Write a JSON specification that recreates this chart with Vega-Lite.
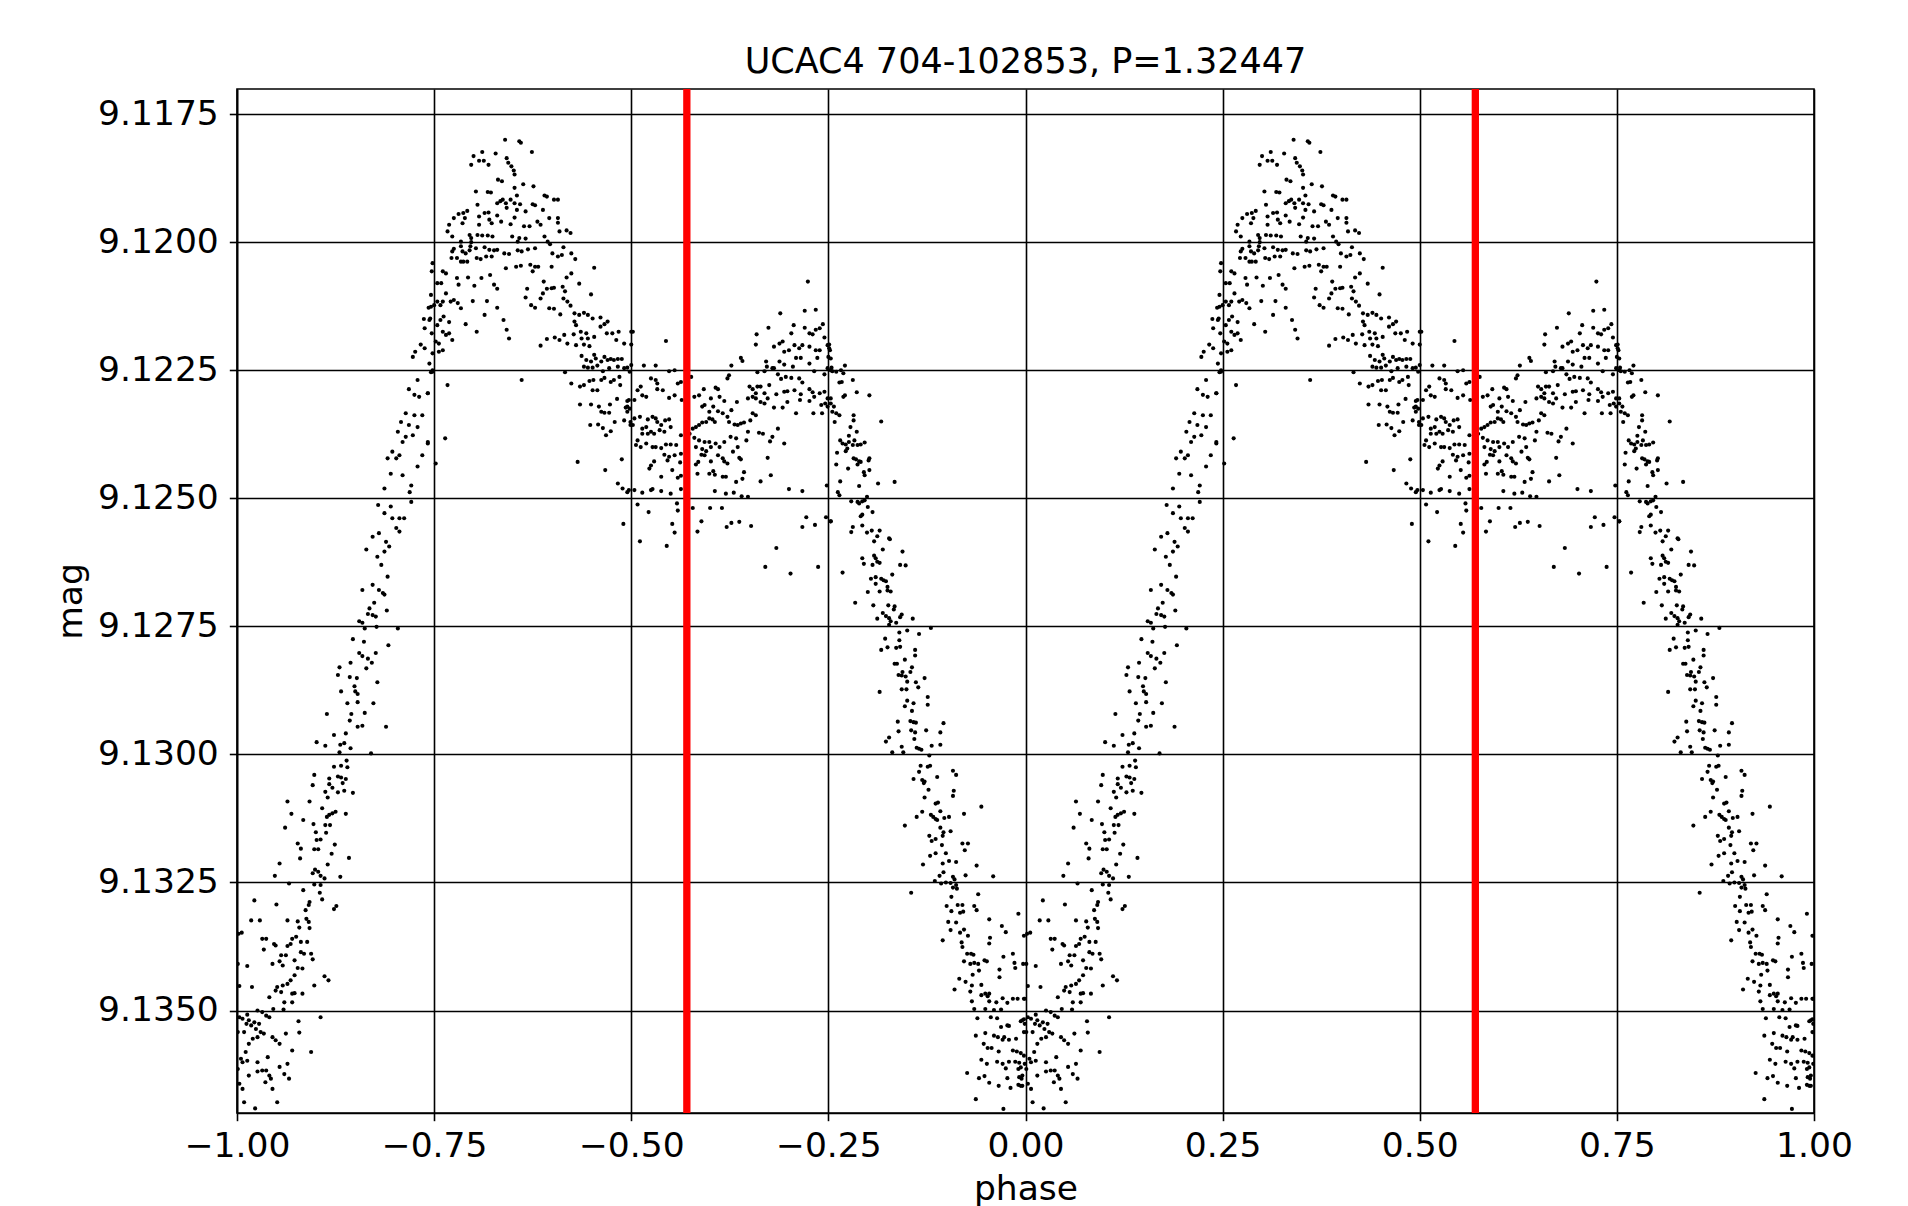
{
"$schema":"https://vega.github.io/schema/vega-lite/v6.json",
"width":1577,"height":1024,
"autosize":{"type":"none"},
"padding":{"left":237,"top":89,"right":94,"bottom":93},
"background":"white",
"title":{"text":"UCAC4 704-102853, P=1.32447","font":"DejaVu Sans","fontSize":35,"fontWeight":"normal","color":"black","anchor":"middle","offset":5},
"config":{"view":{"stroke":"black","strokeWidth":1.6},
"axis":{"labelFont":"DejaVu Sans","labelFontSize":34.5,"labelColor":"black","titleFont":"DejaVu Sans","titleFontSize":34.5,"titleFontWeight":"normal","titleColor":"black","tickColor":"black","tickWidth":1.6,"tickSize":7.7,"domainColor":"black","domainWidth":1.6,"grid":true,"gridColor":"black","gridWidth":1.6,"gridOpacity":1}},
"datasets":{"pts":[
{"p":0.247,"q":-0.753,"m":9.12057},{"p":0.246,"q":-0.754,"m":9.12103},{"p":0.243,"q":-0.757,"m":9.12128},{"p":0.237,"q":-0.763,"m":9.1215},{"p":0.244,"q":-0.756,"m":9.12152},{"p":0.238,"q":-0.762,"m":9.12168},{"p":0.247,"q":-0.753,"m":9.12178},{"p":0.233,"q":-0.767,"m":9.122},{"p":0.226,"q":-0.774,"m":9.12214},{"p":0.238,"q":-0.762,"m":9.12207},{"p":0.223,"q":-0.777,"m":9.12224},{"p":0.244,"q":-0.756,"m":9.12237},{"p":0.248,"q":-0.752,"m":9.12253},{"p":0.229,"q":-0.771,"m":9.12269},{"p":0.218,"q":-0.782,"m":9.12287},{"p":0.225,"q":-0.775,"m":9.12298},{"p":0.231,"q":-0.769,"m":9.12302},{"p":0.242,"q":-0.758,"m":9.12295},{"p":0.214,"q":-0.786,"m":9.12334},{"p":0.225,"q":-0.775,"m":9.12338},{"p":0.208,"q":-0.792,"m":9.12351},{"p":0.218,"q":-0.782,"m":9.12357},{"p":0.229,"q":-0.771,"m":9.12361},{"p":0.235,"q":-0.765,"m":9.12338},{"p":0.204,"q":-0.796,"m":9.1237},{"p":0.214,"q":-0.786,"m":9.1238},{"p":0.223,"q":-0.777,"m":9.12377},{"p":0.21,"q":-0.79,"m":9.1239},{"p":0.197,"q":-0.803,"m":9.12409},{"p":0.206,"q":-0.794,"m":9.12416},{"p":0.191,"q":-0.809,"m":9.12422},{"p":0.202,"q":-0.798,"m":9.12422},{"p":0.229,"q":-0.771,"m":9.12438},{"p":0.235,"q":-0.765,"m":9.12416},{"p":0.242,"q":-0.758,"m":9.1239},{"p":0.195,"q":-0.805,"m":9.12452},{"p":0.21,"q":-0.79,"m":9.12455},{"p":0.187,"q":-0.813,"m":9.12481},{"p":0.221,"q":-0.779,"m":9.12475},{"p":0.219,"q":-0.781,"m":9.12488},{"p":0.221,"q":-0.779,"m":9.12507},{"p":0.179,"q":-0.821,"m":9.12513},{"p":0.195,"q":-0.805,"m":9.12516},{"p":0.187,"q":-0.813,"m":9.12529},{"p":0.197,"q":-0.803,"m":9.12539},{"p":0.206,"q":-0.794,"m":9.12539},{"p":0.212,"q":-0.788,"m":9.12539},{"p":0.202,"q":-0.798,"m":9.12558},{"p":0.206,"q":-0.794,"m":9.12565},{"p":0.172,"q":-0.828,"m":9.12575},{"p":0.18,"q":-0.82,"m":9.12568},{"p":0.189,"q":-0.811,"m":9.12585},{"p":0.193,"q":-0.807,"m":9.12594},{"p":0.164,"q":-0.836,"m":9.126},{"p":0.178,"q":-0.822,"m":9.12614},{"p":0.187,"q":-0.813,"m":9.12604},{"p":0.183,"q":-0.817,"m":9.1263},{"p":0.191,"q":-0.809,"m":9.12653},{"p":0.172,"q":-0.828,"m":9.12669},{"p":0.159,"q":-0.841,"m":9.12679},{"p":0.185,"q":-0.815,"m":9.12685},{"p":0.18,"q":-0.82,"m":9.12679},
{"p":0.187,"q":-0.813,"m":9.12688},{"p":0.174,"q":-0.826,"m":9.12704},{"p":0.168,"q":-0.832,"m":9.12715},{"p":0.166,"q":-0.834,"m":9.12726},{"p":0.172,"q":-0.828,"m":9.12728},{"p":0.176,"q":-0.824,"m":9.12731},{"p":0.19,"q":-0.81,"m":9.12719},{"p":0.155,"q":-0.845,"m":9.1274},{"p":0.159,"q":-0.841,"m":9.12743},{"p":0.162,"q":-0.838,"m":9.12754},{"p":0.177,"q":-0.823,"m":9.12751},{"p":0.204,"q":-0.796,"m":9.12754},{"p":0.147,"q":-0.853,"m":9.12775},{"p":0.161,"q":-0.839,"m":9.1278},{"p":0.192,"q":-0.808,"m":9.12787},{"p":0.155,"q":-0.845,"m":9.12802},{"p":0.159,"q":-0.841,"m":9.12808},{"p":0.166,"q":-0.834,"m":9.12813},{"p":0.176,"q":-0.824,"m":9.12802},{"p":0.171,"q":-0.829,"m":9.12821},{"p":0.164,"q":-0.836,"m":9.12832},{"p":0.144,"q":-0.856,"m":9.12821},{"p":0.13,"q":-0.87,"m":9.1283},{"p":0.128,"q":-0.872,"m":9.12845},{"p":0.178,"q":-0.822,"m":9.12859},{"p":0.143,"q":-0.857,"m":9.12849},{"p":0.152,"q":-0.848,"m":9.12851},{"p":0.132,"q":-0.868,"m":9.12877},{"p":0.149,"q":-0.851,"m":9.12867},{"p":0.15,"q":-0.85,"m":9.12877},{"p":0.153,"q":-0.847,"m":9.12882},{"p":0.14,"q":-0.86,"m":9.129},{"p":0.153,"q":-0.847,"m":9.12898},{"p":0.173,"q":-0.827,"m":9.129},{"p":0.162,"q":-0.838,"m":9.12919},{"p":0.145,"q":-0.855,"m":9.12921},{"p":0.114,"q":-0.886,"m":9.12921},{"p":0.143,"q":-0.857,"m":9.12934},{"p":0.153,"q":-0.847,"m":9.12946},{"p":0.159,"q":-0.841,"m":9.12944},{"p":0.189,"q":-0.811,"m":9.12946},
{"p":0.123,"q":-0.877,"m":9.12962},{"p":0.138,"q":-0.862,"m":9.12959},{"p":0.101,"q":-0.899,"m":9.12976},{"p":0.112,"q":-0.888,"m":9.12983},{"p":0.131,"q":-0.869,"m":9.12981},{"p":0.136,"q":-0.864,"m":9.12978},{"p":0.144,"q":-0.856,"m":9.12988},{"p":0.13,"q":-0.87,"m":9.12996},{"p":0.17,"q":-0.83,"m":9.12998},{"p":0.139,"q":-0.861,"m":9.13012},{"p":0.123,"q":-0.877,"m":9.13024},{"p":0.132,"q":-0.868,"m":9.13022},{"p":0.14,"q":-0.86,"m":9.13025},{"p":0.098,"q":-0.902,"m":9.1304},{"p":0.128,"q":-0.872,"m":9.13043},{"p":0.132,"q":-0.868,"m":9.13045},{"p":0.138,"q":-0.862,"m":9.13048},{"p":0.117,"q":-0.883,"m":9.13047},{"p":0.096,"q":-0.904,"m":9.1306},{"p":0.134,"q":-0.866,"m":9.13056},{"p":0.117,"q":-0.883,"m":9.13058},{"p":0.121,"q":-0.879,"m":9.13065},{"p":0.112,"q":-0.888,"m":9.13073},{"p":0.128,"q":-0.872,"m":9.13074},{"p":0.147,"q":-0.853,"m":9.13075},{"p":0.136,"q":-0.864,"m":9.13071},{"p":0.115,"q":-0.885,"m":9.13084},{"p":0.092,"q":-0.908,"m":9.13092},{"p":0.064,"q":-0.936,"m":9.13092},{"p":0.108,"q":-0.892,"m":9.13105},{"p":0.125,"q":-0.875,"m":9.13112},{"p":0.121,"q":-0.879,"m":9.13115},{"p":0.117,"q":-0.883,"m":9.13118},{"p":0.114,"q":-0.886,"m":9.13122},{"p":0.138,"q":-0.862,"m":9.13116},{"p":0.069,"q":-0.931,"m":9.13116},{"p":0.084,"q":-0.916,"m":9.13128},{"p":0.097,"q":-0.903,"m":9.13136},{"p":0.112,"q":-0.888,"m":9.13138},{"p":0.118,"q":-0.882,"m":9.13138},{"p":0.061,"q":-0.939,"m":9.13143},{"p":0.1,"q":-0.9,"m":9.13152},{"p":0.113,"q":-0.887,"m":9.13153},{"p":0.101,"q":-0.899,"m":9.13167},{"p":0.106,"q":-0.894,"m":9.13166},{"p":0.077,"q":-0.923,"m":9.13174},{"p":0.124,"q":-0.876,"m":9.13176},{"p":0.081,"q":-0.919,"m":9.13184},{"p":0.098,"q":-0.902,"m":9.13185},{"p":0.103,"q":-0.897,"m":9.13185},{"p":0.12,"q":-0.88,"m":9.13194},{"p":0.142,"q":-0.858,"m":9.13202},{"p":0.08,"q":-0.92,"m":9.13203},{"p":0.054,"q":-0.946,"m":9.13213},{"p":0.115,"q":-0.885,"m":9.13215},{"p":0.099,"q":-0.901,"m":9.13225},{"p":0.096,"q":-0.904,"m":9.13232},{"p":0.103,"q":-0.897,"m":9.13229},{"p":0.106,"q":-0.894,"m":9.13237},{"p":0.111,"q":-0.889,"m":9.13242},{"p":0.131,"q":-0.869,"m":9.13239},{"p":0.048,"q":-0.952,"m":9.13237},{"p":0.066,"q":-0.934,"m":9.13252},{"p":0.098,"q":-0.902,"m":9.13254},{"p":0.106,"q":-0.894,"m":9.13255},{"p":0.105,"q":-0.895,"m":9.1327},{"p":0.084,"q":-0.916,"m":9.13265},{"p":0.108,"q":-0.892,"m":9.13283},{"p":0.092,"q":-0.908,"m":9.13288},{"p":0.091,"q":-0.909,"m":9.13294},{"p":0.087,"q":-0.913,"m":9.13304},{"p":0.123,"q":-0.877,"m":9.13302},{"p":0.126,"q":-0.874,"m":9.13296},{"p":0.077,"q":-0.923,"m":9.13326},{"p":0.088,"q":-0.912,"m":9.13321},{"p":0.091,"q":-0.909,"m":9.13327},{"p":0.079,"q":-0.921,"m":9.13338},{"p":0.092,"q":-0.908,"m":9.13339},{"p":0.064,"q":-0.936,"m":9.13324},
{"p":0.002,"q":-0.998,"m":9.1335},{"p":0.006,"q":-0.994,"m":9.13348},{"p":0.001,"q":-0.999,"m":9.13409},{"p":0.013,"q":-0.987,"m":9.13413},{"p":0.018,"q":-0.982,"m":9.13324},{"p":0.029,"q":-0.971,"m":9.13324},{"p":0.022,"q":-0.978,"m":9.13285},{"p":0.05,"q":-0.95,"m":9.13293},{"p":0.032,"q":-0.968,"m":9.1336},{"p":0.037,"q":-0.963,"m":9.1336},{"p":0.034,"q":-0.966,"m":9.13381},{"p":0.047,"q":-0.953,"m":9.1337},{"p":0.049,"q":-0.951,"m":9.13373},{"p":0.064,"q":-0.936,"m":9.13374},{"p":0.068,"q":-0.932,"m":9.1337},{"p":0.075,"q":-0.925,"m":9.13356},{"p":0.081,"q":-0.919,"m":9.13366},{"p":0.089,"q":-0.911,"m":9.13366},{"p":0.07,"q":-0.93,"m":9.1336},{"p":0.062,"q":-0.938,"m":9.13392},{"p":0.056,"q":-0.944,"m":9.13392},{"p":0.058,"q":-0.942,"m":9.13412},{"p":0.045,"q":-0.955,"m":9.13409},{"p":0.054,"q":-0.946,"m":9.13404},{"p":0.073,"q":-0.927,"m":9.13402},{"p":0.081,"q":-0.919,"m":9.13386},{"p":0.085,"q":-0.915,"m":9.13389},{"p":0.094,"q":-0.906,"m":9.13389},{"p":0.096,"q":-0.904,"m":9.134},{"p":0.111,"q":-0.889,"m":9.13433},{"p":0.116,"q":-0.884,"m":9.13441},{"p":0.098,"q":-0.902,"m":9.13451},{"p":0.083,"q":-0.917,"m":9.13418},{"p":0.077,"q":-0.923,"m":9.13417},{"p":0.073,"q":-0.927,"m":9.13431},{"p":0.068,"q":-0.932,"m":9.13441},{"p":0.064,"q":-0.936,"m":9.13448},{"p":0.058,"q":-0.942,"m":9.13451},{"p":0.051,"q":-0.949,"m":9.13454},{"p":0.056,"q":-0.944,"m":9.13464},{"p":0.049,"q":-0.951,"m":9.13461},{"p":0.073,"q":-0.927,"m":9.13466},{"p":0.07,"q":-0.93,"m":9.13467},{"p":0.083,"q":-0.917,"m":9.13467},{"p":0.06,"q":-0.94,"m":9.13484},{"p":0.07,"q":-0.93,"m":9.13484},{"p":0.041,"q":-0.959,"m":9.13474},{"p":0.046,"q":-0.954,"m":9.13497},{"p":0.059,"q":-0.941,"m":9.13498},{"p":0.019,"q":-0.981,"m":9.13454},{"p":0.003,"q":-0.997,"m":9.13452},{"p":0.999,"q":-0.001,"m":9.13477},{"p":0.026,"q":-0.974,"m":9.135},{"p":0.032,"q":-0.968,"m":9.13503},{"p":0.037,"q":-0.963,"m":9.1351},{"p":0.041,"q":-0.959,"m":9.13513},{"p":0.013,"q":-0.987,"m":9.13508},{"p":0.015,"q":-0.985,"m":9.13519},{"p":0.022,"q":-0.978,"m":9.13523},{"p":0.028,"q":-0.972,"m":9.13526},{"p":0.024,"q":-0.976,"m":9.13536},{"p":0.03,"q":-0.97,"m":9.13542},{"p":0.034,"q":-0.966,"m":9.13545},{"p":0.026,"q":-0.974,"m":9.13552},{"p":0.02,"q":-0.98,"m":9.13555},{"p":0.015,"q":-0.985,"m":9.13565},{"p":0.045,"q":-0.955,"m":9.13552},{"p":0.049,"q":-0.951,"m":9.13558},{"p":0.054,"q":-0.946,"m":9.13565},{"p":0.062,"q":-0.938,"m":9.13545},{"p":0.079,"q":-0.921,"m":9.13543},{"p":0.078,"q":-0.922,"m":9.13521},{"p":0.106,"q":-0.894,"m":9.13513},{"p":0.009,"q":-0.991,"m":9.13542},{"p":0.001,"q":-0.999,"m":9.13542},{"p":0.996,"q":-0.004,"m":9.13519},{"p":0.999,"q":-0.001,"m":9.13526},{"p":0.003,"q":-0.997,"m":9.13513},{"p":0.007,"q":-0.993,"m":9.13516},{"p":0.012,"q":-0.988,"m":9.13526},{"p":0.018,"q":-0.982,"m":9.13529},{"p":0.011,"q":-0.989,"m":9.13581},{"p":0.005,"q":-0.995,"m":9.13594},{"p":0.999,"q":-0.001,"m":9.13604},{"p":0.007,"q":-0.993,"m":9.13601},{"p":0.001,"q":-0.999,"m":9.13614},{"p":0.013,"q":-0.987,"m":9.13598},{"p":0.026,"q":-0.974,"m":9.13601},{"p":0.032,"q":-0.968,"m":9.13617},{"p":0.026,"q":-0.974,"m":9.13619},{"p":0.037,"q":-0.963,"m":9.13617},{"p":0.015,"q":-0.985,"m":9.13627},{"p":0.003,"q":-0.997,"m":9.13643},{"p":0.996,"q":-0.004,"m":9.13627},{"p":0.996,"q":-0.004,"m":9.13647},{"p":0.007,"q":-0.993,"m":9.13653},{"p":0.041,"q":-0.959,"m":9.13627},{"p":0.043,"q":-0.957,"m":9.13633},{"p":0.054,"q":-0.946,"m":9.1361},{"p":0.064,"q":-0.936,"m":9.13604},{"p":0.06,"q":-0.94,"m":9.13624},{"p":0.066,"q":-0.934,"m":9.13633},{"p":0.07,"q":-0.93,"m":9.13578},{"p":0.094,"q":-0.906,"m":9.13581},{"p":0.039,"q":-0.961,"m":9.13591},{"p":0.036,"q":-0.964,"m":9.1364},{"p":0.045,"q":-0.955,"m":9.13653},{"p":0.009,"q":-0.991,"m":9.13679},{"p":0.023,"q":-0.977,"m":9.13691},{"p":0.051,"q":-0.949,"m":9.13679},
{"p":0.34,"q":-0.66,"m":9.118},{"p":0.358,"q":-0.642,"m":9.11803},{"p":0.36,"q":-0.64,"m":9.11806},{"p":0.374,"q":-0.626,"m":9.11824},{"p":0.328,"q":-0.672,"m":9.11827},{"p":0.311,"q":-0.689,"m":9.11824},{"p":0.3,"q":-0.7,"m":9.11832},{"p":0.307,"q":-0.693,"m":9.11841},{"p":0.313,"q":-0.687,"m":9.11841},{"p":0.319,"q":-0.681,"m":9.11849},{"p":0.297,"q":-0.703,"m":9.11849},{"p":0.342,"q":-0.658,"m":9.11836},{"p":0.344,"q":-0.656,"m":9.11845},{"p":0.348,"q":-0.652,"m":9.11852},{"p":0.351,"q":-0.649,"m":9.1186},{"p":0.352,"q":-0.648,"m":9.11868},{"p":0.331,"q":-0.669,"m":9.11878},{"p":0.336,"q":-0.664,"m":9.11881},{"p":0.363,"q":-0.637,"m":9.11887},{"p":0.376,"q":-0.624,"m":9.11891},{"p":0.352,"q":-0.648,"m":9.11894},{"p":0.303,"q":-0.697,"m":9.11901},{"p":0.318,"q":-0.682,"m":9.11902},{"p":0.322,"q":-0.678,"m":9.11903},{"p":0.355,"q":-0.645,"m":9.11909},{"p":0.305,"q":-0.695,"m":9.11927},{"p":0.33,"q":-0.67,"m":9.11924},{"p":0.334,"q":-0.666,"m":9.1192},{"p":0.337,"q":-0.663,"m":9.11917},{"p":0.341,"q":-0.659,"m":9.11924},{"p":0.347,"q":-0.653,"m":9.11917},{"p":0.352,"q":-0.648,"m":9.11924},{"p":0.359,"q":-0.641,"m":9.11926},{"p":0.375,"q":-0.625,"m":9.11926},{"p":0.378,"q":-0.622,"m":9.11928},{"p":0.39,"q":-0.61,"m":9.11909},{"p":0.393,"q":-0.607,"m":9.11911},{"p":0.402,"q":-0.598,"m":9.11917},{"p":0.407,"q":-0.593,"m":9.11917},{"p":0.388,"q":-0.612,"m":9.11937},{"p":0.366,"q":-0.634,"m":9.1194},{"p":0.355,"q":-0.645,"m":9.11937},{"p":0.342,"q":-0.658,"m":9.11933},{"p":0.319,"q":-0.681,"m":9.11942},{"p":0.314,"q":-0.686,"m":9.11943},{"p":0.307,"q":-0.693,"m":9.1195},{"p":0.292,"q":-0.708,"m":9.11939},{"p":0.287,"q":-0.713,"m":9.11943},{"p":0.281,"q":-0.719,"m":9.11945},{"p":0.275,"q":-0.725,"m":9.11953},{"p":0.289,"q":-0.711,"m":9.11953},{"p":0.286,"q":-0.714,"m":9.11963},{"p":0.32,"q":-0.68,"m":9.11956},{"p":0.33,"q":-0.67,"m":9.11948},{"p":0.335,"q":-0.665,"m":9.1196},{"p":0.323,"q":-0.677,"m":9.11963},{"p":0.307,"q":-0.693,"m":9.11966},{"p":0.347,"q":-0.653,"m":9.11965},{"p":0.352,"q":-0.648,"m":9.11952},{"p":0.364,"q":-0.636,"m":9.11969},{"p":0.371,"q":-0.629,"m":9.11969},{"p":0.381,"q":-0.619,"m":9.1196},{"p":0.385,"q":-0.615,"m":9.11966},{"p":0.396,"q":-0.604,"m":9.11953},{"p":0.407,"q":-0.593,"m":9.11953},{"p":0.407,"q":-0.593,"m":9.11962},{"p":0.409,"q":-0.591,"m":9.11979},{"p":0.418,"q":-0.582,"m":9.11977},{"p":0.423,"q":-0.577,"m":9.11982},{"p":0.269,"q":-0.731,"m":9.11966},{"p":0.267,"q":-0.733,"m":9.11979},{"p":0.273,"q":-0.727,"m":9.11989},{"p":0.295,"q":-0.705,"m":9.11986},{"p":0.297,"q":-0.703,"m":9.11992},{"p":0.305,"q":-0.695,"m":9.11986},{"p":0.311,"q":-0.689,"m":9.11987},{"p":0.318,"q":-0.682,"m":9.11987},{"p":0.324,"q":-0.676,"m":9.11989},{"p":0.349,"q":-0.651,"m":9.11989},{"p":0.358,"q":-0.642,"m":9.11992},{"p":0.366,"q":-0.634,"m":9.11993},{"p":0.356,"q":-0.644,"m":9.11999},{"p":0.39,"q":-0.61,"m":9.11989},{"p":0.394,"q":-0.606,"m":9.11999},{"p":0.284,"q":-0.716,"m":9.11999},{"p":0.297,"q":-0.703,"m":9.12},{"p":0.296,"q":-0.704,"m":9.12008},{"p":0.284,"q":-0.716,"m":9.12008},{"p":0.275,"q":-0.725,"m":9.12013},{"p":0.273,"q":-0.727,"m":9.12018},{"p":0.286,"q":-0.714,"m":9.12018},{"p":0.29,"q":-0.71,"m":9.12022},{"p":0.295,"q":-0.705,"m":9.12016},{"p":0.303,"q":-0.697,"m":9.12012},{"p":0.314,"q":-0.686,"m":9.1201},{"p":0.32,"q":-0.68,"m":9.12015},{"p":0.326,"q":-0.674,"m":9.12016},{"p":0.33,"q":-0.67,"m":9.12015},{"p":0.339,"q":-0.661,"m":9.12022},{"p":0.345,"q":-0.655,"m":9.12023},{"p":0.356,"q":-0.644,"m":9.12016},{"p":0.361,"q":-0.639,"m":9.12018},{"p":0.369,"q":-0.631,"m":9.12014},{"p":0.378,"q":-0.622,"m":9.12012},{"p":0.397,"q":-0.603,"m":9.12004},{"p":0.4,"q":-0.6,"m":9.12022},{"p":0.407,"q":-0.593,"m":9.12028},{"p":0.414,"q":-0.586,"m":9.1201},{"p":0.412,"q":-0.588,"m":9.12025},{"p":0.424,"q":-0.576,"m":9.12022},{"p":0.429,"q":-0.571,"m":9.12033},{"p":0.272,"q":-0.728,"m":9.12031},{"p":0.279,"q":-0.721,"m":9.12031},{"p":0.284,"q":-0.716,"m":9.12038},{"p":0.287,"q":-0.713,"m":9.12038},{"p":0.292,"q":-0.708,"m":9.12038},{"p":0.304,"q":-0.696,"m":9.12031},{"p":0.309,"q":-0.691,"m":9.12033},{"p":0.316,"q":-0.684,"m":9.12028},{"p":0.323,"q":-0.677,"m":9.12028},{"p":0.341,"q":-0.659,"m":9.12051},{"p":0.354,"q":-0.646,"m":9.12048},{"p":0.36,"q":-0.64,"m":9.12046},{"p":0.372,"q":-0.628,"m":9.12044},{"p":0.378,"q":-0.622,"m":9.12048},{"p":0.382,"q":-0.618,"m":9.12048},{"p":0.399,"q":-0.601,"m":9.12048},{"p":0.453,"q":-0.547,"m":9.1205},{"p":0.248,"q":-0.752,"m":9.12041},{"p":0.261,"q":-0.739,"m":9.12057},{"p":0.265,"q":-0.735,"m":9.12061},{"p":0.254,"q":-0.746,"m":9.1208},{"p":0.259,"q":-0.741,"m":9.1208},{"p":0.279,"q":-0.721,"m":9.1207},{"p":0.281,"q":-0.719,"m":9.12083},{"p":0.293,"q":-0.707,"m":9.12069},{"p":0.301,"q":-0.699,"m":9.12085},{"p":0.31,"q":-0.69,"m":9.1207},{"p":0.321,"q":-0.679,"m":9.12064},{"p":0.326,"q":-0.674,"m":9.12083},{"p":0.33,"q":-0.67,"m":9.12091},{"p":0.368,"q":-0.632,"m":9.12091},{"p":0.375,"q":-0.625,"m":9.12057},{"p":0.389,"q":-0.611,"m":9.12077},{"p":0.393,"q":-0.607,"m":9.12091},{"p":0.399,"q":-0.601,"m":9.1209},{"p":0.402,"q":-0.598,"m":9.12089},{"p":0.413,"q":-0.587,"m":9.12087},{"p":0.416,"q":-0.584,"m":9.12096},{"p":0.418,"q":-0.582,"m":9.12069},{"p":0.424,"q":-0.576,"m":9.12061},{"p":0.434,"q":-0.566,"m":9.12081},{"p":0.449,"q":-0.551,"m":9.12102},{"p":0.265,"q":-0.735,"m":9.121},{"p":0.271,"q":-0.729,"m":9.12116},{"p":0.275,"q":-0.725,"m":9.12113},{"p":0.28,"q":-0.72,"m":9.12119},{"p":0.284,"q":-0.716,"m":9.12129},{"p":0.261,"q":-0.739,"m":9.12116},{"p":0.258,"q":-0.742,"m":9.12123},{"p":0.254,"q":-0.746,"m":9.12116},{"p":0.25,"q":-0.75,"m":9.12123},{"p":0.246,"q":-0.754,"m":9.12126},{"p":0.245,"q":-0.755,"m":9.12149},{"p":0.258,"q":-0.742,"m":9.12152},{"p":0.262,"q":-0.738,"m":9.12145},{"p":0.269,"q":-0.731,"m":9.12156},{"p":0.254,"q":-0.746,"m":9.12162},{"p":0.261,"q":-0.739,"m":9.12175},{"p":0.265,"q":-0.735,"m":9.12181},{"p":0.269,"q":-0.731,"m":9.12178},{"p":0.273,"q":-0.727,"m":9.12191},{"p":0.252,"q":-0.748,"m":9.12194},{"p":0.256,"q":-0.744,"m":9.12198},{"p":0.261,"q":-0.739,"m":9.12211},{"p":0.256,"q":-0.744,"m":9.12214},{"p":0.248,"q":-0.752,"m":9.12217},{"p":0.29,"q":-0.71,"m":9.1216},{"p":0.304,"q":-0.696,"m":9.12175},{"p":0.299,"q":-0.701,"m":9.12115},{"p":0.317,"q":-0.683,"m":9.12115},{"p":0.314,"q":-0.686,"m":9.12142},{"p":0.33,"q":-0.67,"m":9.12128},{"p":0.338,"q":-0.662,"m":9.12152},{"p":0.342,"q":-0.658,"m":9.12171},{"p":0.345,"q":-0.655,"m":9.12188},{"p":0.366,"q":-0.634,"m":9.12108},{"p":0.373,"q":-0.627,"m":9.12123},{"p":0.378,"q":-0.622,"m":9.12128},{"p":0.385,"q":-0.615,"m":9.1211},{"p":0.388,"q":-0.612,"m":9.121},{"p":0.396,"q":-0.604,"m":9.12129},{"p":0.402,"q":-0.598,"m":9.1213},{"p":0.41,"q":-0.59,"m":9.12141},{"p":0.414,"q":-0.586,"m":9.1211},{"p":0.419,"q":-0.581,"m":9.12116},{"p":0.423,"q":-0.577,"m":9.12124},{"p":0.428,"q":-0.572,"m":9.12139},{"p":0.434,"q":-0.566,"m":9.12142},{"p":0.44,"q":-0.56,"m":9.12138},{"p":0.445,"q":-0.555,"m":9.12142},{"p":0.451,"q":-0.549,"m":9.12149},{"p":0.461,"q":-0.539,"m":9.12147},{"p":0.466,"q":-0.534,"m":9.1216},{"p":0.47,"q":-0.53,"m":9.12155},{"p":0.428,"q":-0.572,"m":9.12155},{"p":0.43,"q":-0.57,"m":9.12162},{"p":0.436,"q":-0.564,"m":9.12175},{"p":0.443,"q":-0.557,"m":9.12178},{"p":0.445,"q":-0.555,"m":9.12188},{"p":0.453,"q":-0.547,"m":9.12185},{"p":0.461,"q":-0.539,"m":9.12165},{"p":0.469,"q":-0.531,"m":9.12178},{"p":0.476,"q":-0.524,"m":9.12178},{"p":0.484,"q":-0.516,"m":9.12175},{"p":0.491,"q":-0.509,"m":9.12198},{"p":0.5,"q":-0.5,"m":9.12175},{"p":0.481,"q":-0.519,"m":9.12191},{"p":0.385,"q":-0.615,"m":9.12202},{"p":0.393,"q":-0.607,"m":9.12189},{"p":0.403,"q":-0.597,"m":9.12186},{"p":0.409,"q":-0.591,"m":9.12191},{"p":0.415,"q":-0.585,"m":9.12181},{"p":0.419,"q":-0.581,"m":9.12198},{"p":0.427,"q":-0.573,"m":9.1218},{"p":0.43,"q":-0.57,"m":9.12201},{"p":0.437,"q":-0.563,"m":9.12188},{"p":0.44,"q":-0.56,"m":9.122},{"p":0.447,"q":-0.553,"m":9.12203},{"p":0.453,"q":-0.547,"m":9.1222},{"p":0.437,"q":-0.563,"m":9.12222},{"p":0.443,"q":-0.557,"m":9.1223},{"p":0.449,"q":-0.551,"m":9.12233},{"p":0.455,"q":-0.545,"m":9.12227},{"p":0.462,"q":-0.538,"m":9.12233},{"p":0.466,"q":-0.534,"m":9.12224},{"p":0.47,"q":-0.53,"m":9.1223},{"p":0.474,"q":-0.526,"m":9.12228},{"p":0.478,"q":-0.522,"m":9.1223},{"p":0.483,"q":-0.517,"m":9.12228},{"p":0.488,"q":-0.512,"m":9.12228},{"p":0.44,"q":-0.56,"m":9.12243},{"p":0.445,"q":-0.555,"m":9.12245},{"p":0.451,"q":-0.549,"m":9.12245},{"p":0.457,"q":-0.543,"m":9.12241},{"p":0.464,"q":-0.536,"m":9.12252},{"p":0.472,"q":-0.528,"m":9.12246},{"p":0.483,"q":-0.517,"m":9.12243},{"p":0.491,"q":-0.509,"m":9.12246},{"p":0.498,"q":-0.502,"m":9.12253},{"p":0.416,"q":-0.584,"m":9.12254},{"p":0.424,"q":-0.576,"m":9.12276},{"p":0.435,"q":-0.565,"m":9.12282},{"p":0.44,"q":-0.56,"m":9.12279},{"p":0.447,"q":-0.553,"m":9.12271},{"p":0.452,"q":-0.548,"m":9.12269},{"p":0.451,"q":-0.549,"m":9.12289},{"p":0.457,"q":-0.543,"m":9.12289},{"p":0.462,"q":-0.538,"m":9.12269},{"p":0.466,"q":-0.534,"m":9.12265},{"p":0.474,"q":-0.526,"m":9.12273},{"p":0.478,"q":-0.522,"m":9.12269},{"p":0.485,"q":-0.515,"m":9.12263},{"p":0.486,"q":-0.514,"m":9.12279},{"p":0.248,"q":-0.752,"m":9.1225},{"p":0.246,"q":-0.754,"m":9.12254},{"p":0.242,"q":-0.758,"m":9.12295},{"p":0.267,"q":-0.733,"m":9.12279},{"p":0.361,"q":-0.639,"m":9.12269},{"p":0.435,"q":-0.565,"m":9.12317},{"p":0.449,"q":-0.551,"m":9.12317},{"p":0.459,"q":-0.541,"m":9.12321},{"p":0.462,"q":-0.538,"m":9.12331},{"p":0.466,"q":-0.534,"m":9.12333},{"p":0.472,"q":-0.528,"m":9.12333},{"p":0.473,"q":-0.527,"m":9.12317},{"p":0.482,"q":-0.518,"m":9.12306},{"p":0.495,"q":-0.505,"m":9.1231},{"p":0.493,"q":-0.507,"m":9.12323},{"p":0.498,"q":-0.502,"m":9.12325},{"p":0.491,"q":-0.509,"m":9.12348},{"p":0.499,"q":-0.501,"m":9.12357},{"p":0.448,"q":-0.552,"m":9.12357},{"p":0.458,"q":-0.542,"m":9.12356},{"p":0.464,"q":-0.536,"m":9.12363},{"p":0.468,"q":-0.532,"m":9.12377},{"p":0.474,"q":-0.526,"m":9.12369},{"p":0.479,"q":-0.521,"m":9.12351},{"p":0.264,"q":-0.736,"m":9.12383},{"p":0.252,"q":-0.748,"m":9.12432},{"p":0.432,"q":-0.568,"m":9.12429},{"p":0.467,"q":-0.533,"m":9.12445},{"p":0.488,"q":-0.512,"m":9.12424},{"p":0.483,"q":-0.517,"m":9.12471},{"p":0.489,"q":-0.511,"m":9.12481},{"p":0.495,"q":-0.505,"m":9.12488},{"p":0.49,"q":-0.51,"m":9.1255},{"p":0.242,"q":-0.758,"m":9.12393},
{"p":0.724,"q":-0.276,"m":9.12077},{"p":0.689,"q":-0.311,"m":9.12139},{"p":0.72,"q":-0.28,"m":9.12134},{"p":0.734,"q":-0.266,"m":9.12132},{"p":0.674,"q":-0.326,"m":9.12167},{"p":0.706,"q":-0.294,"m":9.12162},{"p":0.703,"q":-0.297,"m":9.12178},{"p":0.72,"q":-0.28,"m":9.12167},{"p":0.726,"q":-0.274,"m":9.12178},{"p":0.73,"q":-0.27,"m":9.1218},{"p":0.734,"q":-0.266,"m":9.12171},{"p":0.739,"q":-0.261,"m":9.12168},{"p":0.743,"q":-0.257,"m":9.1216},{"p":0.745,"q":-0.255,"m":9.12186},{"p":0.659,"q":-0.341,"m":9.1218},{"p":0.658,"q":-0.342,"m":9.122},{"p":0.681,"q":-0.319,"m":9.12204},{"p":0.688,"q":-0.312,"m":9.12198},{"p":0.692,"q":-0.308,"m":9.12194},{"p":0.694,"q":-0.306,"m":9.12214},{"p":0.7,"q":-0.3,"m":9.12211},{"p":0.707,"q":-0.293,"m":9.12201},{"p":0.713,"q":-0.287,"m":9.12207},{"p":0.717,"q":-0.283,"m":9.12201},{"p":0.726,"q":-0.274,"m":9.12204},{"p":0.734,"q":-0.266,"m":9.12211},{"p":0.739,"q":-0.261,"m":9.12211},{"p":0.749,"q":-0.251,"m":9.12201},{"p":0.751,"q":-0.249,"m":9.12207},{"p":0.671,"q":-0.329,"m":9.12233},{"p":0.672,"q":-0.328,"m":9.12243},{"p":0.681,"q":-0.319,"m":9.12246},{"p":0.688,"q":-0.312,"m":9.12233},{"p":0.694,"q":-0.306,"m":9.12239},{"p":0.705,"q":-0.295,"m":9.12243},{"p":0.709,"q":-0.291,"m":9.12226},{"p":0.715,"q":-0.285,"m":9.12226},{"p":0.726,"q":-0.274,"m":9.12237},{"p":0.736,"q":-0.264,"m":9.12226},{"p":0.749,"q":-0.251,"m":9.12246},{"p":0.753,"q":-0.247,"m":9.12227},{"p":0.495,"q":-0.505,"m":9.12245},{"p":0.5,"q":-0.5,"m":9.1224},{"p":0.502,"q":-0.498,"m":9.12175},{"p":0.5,"q":-0.5,"m":9.122},{"p":0.544,"q":-0.456,"m":9.12193},{"p":0.516,"q":-0.484,"m":9.12241},{"p":0.531,"q":-0.469,"m":9.12241},{"p":0.548,"q":-0.452,"m":9.12252},{"p":0.555,"q":-0.445,"m":9.1225},{"p":0.576,"q":-0.424,"m":9.12263},{"p":0.563,"q":-0.437,"m":9.12273},{"p":0.559,"q":-0.441,"m":9.12276},{"p":0.627,"q":-0.373,"m":9.12241},{"p":0.641,"q":-0.359,"m":9.12232},{"p":0.639,"q":-0.361,"m":9.12226},{"p":0.622,"q":-0.378,"m":9.12266},{"p":0.624,"q":-0.376,"m":9.1226},{"p":0.66,"q":-0.34,"m":9.12254},{"p":0.669,"q":-0.331,"m":9.12252},{"p":0.679,"q":-0.321,"m":9.12246},{"p":0.686,"q":-0.314,"m":9.12258},{"p":0.69,"q":-0.31,"m":9.12267},{"p":0.696,"q":-0.304,"m":9.12263},{"p":0.703,"q":-0.297,"m":9.12265},{"p":0.713,"q":-0.287,"m":9.12266},{"p":0.717,"q":-0.283,"m":9.12274},{"p":0.732,"q":-0.268,"m":9.12252},{"p":0.745,"q":-0.255,"m":9.12258},{"p":0.753,"q":-0.247,"m":9.1225},{"p":0.65,"q":-0.35,"m":9.12282},{"p":0.654,"q":-0.346,"m":9.12287},{"p":0.66,"q":-0.34,"m":9.12282},{"p":0.658,"q":-0.342,"m":9.12295},{"p":0.664,"q":-0.336,"m":9.12282},{"p":0.669,"q":-0.331,"m":9.12295},{"p":0.675,"q":-0.325,"m":9.12279},{"p":0.684,"q":-0.316,"m":9.12297},{"p":0.694,"q":-0.306,"m":9.12292},{"p":0.698,"q":-0.302,"m":9.12291},{"p":0.707,"q":-0.293,"m":9.12289},{"p":0.715,"q":-0.285,"m":9.12297},{"p":0.726,"q":-0.274,"m":9.12287},{"p":0.73,"q":-0.27,"m":9.12293},{"p":0.739,"q":-0.261,"m":9.12295},{"p":0.745,"q":-0.255,"m":9.12292},{"p":0.749,"q":-0.251,"m":9.12305},{"p":0.753,"q":-0.247,"m":9.12315},{"p":0.512,"q":-0.488,"m":9.12282},{"p":0.508,"q":-0.492,"m":9.12289},{"p":0.514,"q":-0.486,"m":9.12299},{"p":0.519,"q":-0.481,"m":9.12302},{"p":0.525,"q":-0.475,"m":9.12266},{"p":0.531,"q":-0.469,"m":9.12269},{"p":0.533,"q":-0.467,"m":9.12276},{"p":0.54,"q":-0.46,"m":9.12289},{"p":0.533,"q":-0.467,"m":9.12287},{"p":0.548,"q":-0.452,"m":9.12304},{"p":0.555,"q":-0.445,"m":9.12299},{"p":0.564,"q":-0.436,"m":9.12308},{"p":0.569,"q":-0.431,"m":9.12312},{"p":0.58,"q":-0.42,"m":9.12302},{"p":0.586,"q":-0.414,"m":9.12299},{"p":0.592,"q":-0.408,"m":9.12287},{"p":0.607,"q":-0.393,"m":9.12284},{"p":0.61,"q":-0.39,"m":9.12287},{"p":0.601,"q":-0.399,"m":9.12305},{"p":0.612,"q":-0.388,"m":9.12302},{"p":0.618,"q":-0.382,"m":9.1231},{"p":0.627,"q":-0.373,"m":9.12328},{"p":0.634,"q":-0.366,"m":9.12312},{"p":0.648,"q":-0.352,"m":9.12305},{"p":0.654,"q":-0.346,"m":9.12302},{"p":0.658,"q":-0.342,"m":9.12305},{"p":0.664,"q":-0.336,"m":9.12312},{"p":0.669,"q":-0.331,"m":9.12315},{"p":0.673,"q":-0.327,"m":9.12305},{"p":0.681,"q":-0.319,"m":9.12323},{"p":0.692,"q":-0.308,"m":9.12323},{"p":0.698,"q":-0.302,"m":9.12312},{"p":0.709,"q":-0.291,"m":9.12334},{"p":0.714,"q":-0.286,"m":9.12308},{"p":0.726,"q":-0.274,"m":9.1231},{"p":0.732,"q":-0.268,"m":9.12302},{"p":0.741,"q":-0.259,"m":9.12318},{"p":0.746,"q":-0.254,"m":9.12315},{"p":0.749,"q":-0.251,"m":9.12321},{"p":0.742,"q":-0.258,"m":9.12334},{"p":0.731,"q":-0.269,"m":9.12334},{"p":0.504,"q":-0.496,"m":9.12308},{"p":0.497,"q":-0.503,"m":9.12308},{"p":0.495,"q":-0.505,"m":9.12321},{"p":0.502,"q":-0.498,"m":9.12357},{"p":0.499,"q":-0.501,"m":9.12351},{"p":0.495,"q":-0.505,"m":9.12331},{"p":0.504,"q":-0.496,"m":9.12344},{"p":0.511,"q":-0.489,"m":9.12341},{"p":0.514,"q":-0.486,"m":9.12364},{"p":0.519,"q":-0.481,"m":9.12361},{"p":0.521,"q":-0.479,"m":9.12346},{"p":0.527,"q":-0.473,"m":9.12341},{"p":0.531,"q":-0.469,"m":9.12344},{"p":0.533,"q":-0.467,"m":9.12351},{"p":0.538,"q":-0.462,"m":9.12357},{"p":0.543,"q":-0.457,"m":9.12348},{"p":0.548,"q":-0.452,"m":9.12346},{"p":0.55,"q":-0.45,"m":9.12361},{"p":0.525,"q":-0.475,"m":9.1237},{"p":0.521,"q":-0.479,"m":9.12374},{"p":0.529,"q":-0.471,"m":9.12374},{"p":0.536,"q":-0.464,"m":9.12367},{"p":0.542,"q":-0.458,"m":9.1237},{"p":0.514,"q":-0.486,"m":9.12374},{"p":0.508,"q":-0.492,"m":9.12387},{"p":0.506,"q":-0.494,"m":9.12396},{"p":0.512,"q":-0.488,"m":9.124},{"p":0.519,"q":-0.481,"m":9.12393},{"p":0.527,"q":-0.473,"m":9.124},{"p":0.531,"q":-0.469,"m":9.124},{"p":0.538,"q":-0.462,"m":9.12402},{"p":0.544,"q":-0.456,"m":9.12395},{"p":0.55,"q":-0.45,"m":9.12395},{"p":0.557,"q":-0.443,"m":9.12396},{"p":0.563,"q":-0.437,"m":9.12377},{"p":0.574,"q":-0.426,"m":9.12374},{"p":0.578,"q":-0.422,"m":9.12364},{"p":0.582,"q":-0.418,"m":9.12361},{"p":0.586,"q":-0.414,"m":9.12357},{"p":0.59,"q":-0.41,"m":9.12352},{"p":0.595,"q":-0.405,"m":9.12351},{"p":0.599,"q":-0.401,"m":9.12344},{"p":0.603,"q":-0.397,"m":9.12346},{"p":0.606,"q":-0.394,"m":9.12351},{"p":0.59,"q":-0.41,"m":9.12321},{"p":0.593,"q":-0.407,"m":9.12318},{"p":0.599,"q":-0.401,"m":9.12331},{"p":0.604,"q":-0.396,"m":9.12321},{"p":0.61,"q":-0.39,"m":9.1233},{"p":0.616,"q":-0.384,"m":9.12334},{"p":0.622,"q":-0.378,"m":9.12341},{"p":0.624,"q":-0.376,"m":9.12351},{"p":0.631,"q":-0.369,"m":9.12356},{"p":0.635,"q":-0.365,"m":9.12357},{"p":0.639,"q":-0.361,"m":9.12354},{"p":0.643,"q":-0.357,"m":9.12352},{"p":0.648,"q":-0.352,"m":9.1237},{"p":0.651,"q":-0.349,"m":9.12348},{"p":0.654,"q":-0.346,"m":9.12334},{"p":0.658,"q":-0.342,"m":9.12338},{"p":0.662,"q":-0.338,"m":9.12372},{"p":0.667,"q":-0.333,"m":9.12374},{"p":0.679,"q":-0.321,"m":9.1238},{"p":0.686,"q":-0.314,"m":9.12364},{"p":0.676,"q":-0.324,"m":9.12389},{"p":0.694,"q":-0.306,"m":9.12393},{"p":0.58,"q":-0.42,"m":9.12382},{"p":0.586,"q":-0.414,"m":9.12387},{"p":0.593,"q":-0.407,"m":9.1239},{"p":0.599,"q":-0.401,"m":9.1239},{"p":0.582,"q":-0.418,"m":9.124},{"p":0.59,"q":-0.41,"m":9.12404},{"p":0.595,"q":-0.405,"m":9.12408},{"p":0.601,"q":-0.399,"m":9.124},{"p":0.607,"q":-0.393,"m":9.12393},{"p":0.612,"q":-0.388,"m":9.124},{"p":0.618,"q":-0.382,"m":9.1239},{"p":0.626,"q":-0.374,"m":9.1238},{"p":0.633,"q":-0.367,"m":9.12383},{"p":0.646,"q":-0.354,"m":9.12387},{"p":0.635,"q":-0.365,"m":9.124},{"p":0.629,"q":-0.371,"m":9.12409},{"p":0.637,"q":-0.363,"m":9.12421},{"p":0.639,"q":-0.361,"m":9.12424},{"p":0.61,"q":-0.39,"m":9.12416},{"p":0.616,"q":-0.384,"m":9.12422},{"p":0.618,"q":-0.382,"m":9.12428},{"p":0.622,"q":-0.378,"m":9.12432},{"p":0.601,"q":-0.399,"m":9.12428},{"p":0.593,"q":-0.407,"m":9.12416},{"p":0.589,"q":-0.411,"m":9.12415},{"p":0.585,"q":-0.415,"m":9.12429},{"p":0.582,"q":-0.418,"m":9.12434},{"p":0.523,"q":-0.477,"m":9.12442},{"p":0.525,"q":-0.475,"m":9.12436},{"p":0.529,"q":-0.471,"m":9.12428},{"p":0.542,"q":-0.458,"m":9.12415},{"p":0.546,"q":-0.454,"m":9.12426},{"p":0.548,"q":-0.452,"m":9.12419},{"p":0.555,"q":-0.445,"m":9.12416},{"p":0.563,"q":-0.437,"m":9.12413},{"p":0.571,"q":-0.429,"m":9.12429},{"p":0.552,"q":-0.448,"m":9.12445},{"p":0.562,"q":-0.438,"m":9.1243},{"p":0.559,"q":-0.441,"m":9.1246},{"p":0.563,"q":-0.437,"m":9.12456},{"p":0.538,"q":-0.462,"m":9.12458},{"p":0.584,"q":-0.416,"m":9.12452},{"p":0.599,"q":-0.401,"m":9.12452},{"p":0.604,"q":-0.396,"m":9.12447},{"p":0.606,"q":-0.394,"m":9.12454},{"p":0.616,"q":-0.384,"m":9.12458},{"p":0.62,"q":-0.38,"m":9.12458},{"p":0.633,"q":-0.367,"m":9.12468},{"p":0.643,"q":-0.357,"m":9.12449},{"p":0.641,"q":-0.359,"m":9.12462},{"p":0.664,"q":-0.336,"m":9.12467},{"p":0.673,"q":-0.327,"m":9.12421},{"p":0.677,"q":-0.323,"m":9.12455},{"p":0.504,"q":-0.496,"m":9.12484},{"p":0.497,"q":-0.503,"m":9.12484},{"p":0.514,"q":-0.486,"m":9.12489},{"p":0.525,"q":-0.475,"m":9.12484},{"p":0.527,"q":-0.473,"m":9.12482},{"p":0.538,"q":-0.462,"m":9.12486},{"p":0.55,"q":-0.45,"m":9.12491},{"p":0.563,"q":-0.437,"m":9.12482},{"p":0.606,"q":-0.394,"m":9.12486},{"p":0.62,"q":-0.38,"m":9.12491},{"p":0.63,"q":-0.37,"m":9.12489},{"p":0.64,"q":-0.36,"m":9.12496},{"p":0.648,"q":-0.352,"m":9.12497},{"p":0.7,"q":-0.3,"m":9.12482},{"p":0.717,"q":-0.283,"m":9.12486},{"p":0.748,"q":-0.252,"m":9.12475},{"p":0.508,"q":-0.492,"m":9.12512},{"p":0.522,"q":-0.478,"m":9.12527},{"p":0.558,"q":-0.442,"m":9.1251},{"p":0.559,"q":-0.441,"m":9.12524},{"p":0.578,"q":-0.422,"m":9.12519},{"p":0.6,"q":-0.4,"m":9.12519},{"p":0.615,"q":-0.385,"m":9.12519},{"p":0.552,"q":-0.448,"m":9.1255},{"p":0.555,"q":-0.445,"m":9.12567},{"p":0.571,"q":-0.429,"m":9.12541},{"p":0.584,"q":-0.416,"m":9.12565},{"p":0.589,"q":-0.411,"m":9.12545},{"p":0.621,"q":-0.379,"m":9.12556},{"p":0.627,"q":-0.373,"m":9.12548},{"p":0.637,"q":-0.363,"m":9.12546},{"p":0.652,"q":-0.348,"m":9.12554},{"p":0.722,"q":-0.278,"m":9.12537},{"p":0.717,"q":-0.283,"m":9.12556},{"p":0.733,"q":-0.267,"m":9.12552},{"p":0.747,"q":-0.253,"m":9.12537},{"p":0.753,"q":-0.247,"m":9.12545},{"p":0.511,"q":-0.489,"m":9.12584},{"p":0.545,"q":-0.455,"m":9.12593},{"p":0.684,"q":-0.316,"m":9.12597},{"p":0.67,"q":-0.33,"m":9.12634},{"p":0.702,"q":-0.298,"m":9.12647},{"p":0.737,"q":-0.263,"m":9.12634},
{"p":0.751,"q":-0.249,"m":9.122},{"p":0.752,"q":-0.248,"m":9.12211},{"p":0.75,"q":-0.25,"m":9.12224},{"p":0.754,"q":-0.246,"m":9.12245},{"p":0.755,"q":-0.245,"m":9.12252},{"p":0.76,"q":-0.24,"m":9.12253},{"p":0.766,"q":-0.234,"m":9.1225},{"p":0.769,"q":-0.231,"m":9.12256},{"p":0.771,"q":-0.229,"m":9.12241},{"p":0.764,"q":-0.236,"m":9.12274},{"p":0.767,"q":-0.233,"m":9.12273},{"p":0.781,"q":-0.219,"m":9.12269},{"p":0.786,"q":-0.214,"m":9.12293},{"p":0.802,"q":-0.198,"m":9.12299},{"p":0.753,"q":-0.247,"m":9.12305},{"p":0.769,"q":-0.231,"m":9.12302},{"p":0.771,"q":-0.229,"m":9.12299},{"p":0.757,"q":-0.243,"m":9.12321},{"p":0.755,"q":-0.245,"m":9.12331},{"p":0.76,"q":-0.24,"m":9.12334},{"p":0.764,"q":-0.236,"m":9.12338},{"p":0.758,"q":-0.242,"m":9.12351},{"p":0.782,"q":-0.218,"m":9.12338},{"p":0.782,"q":-0.218,"m":9.12348},{"p":0.817,"q":-0.183,"m":9.1235},{"p":0.778,"q":-0.222,"m":9.12361},{"p":0.776,"q":-0.224,"m":9.12378},{"p":0.786,"q":-0.214,"m":9.1237},{"p":0.765,"q":-0.235,"m":9.12387},{"p":0.768,"q":-0.232,"m":9.12393},{"p":0.772,"q":-0.228,"m":9.12395},{"p":0.776,"q":-0.224,"m":9.1239},{"p":0.783,"q":-0.217,"m":9.12387},{"p":0.781,"q":-0.219,"m":9.12396},{"p":0.787,"q":-0.213,"m":9.12396},{"p":0.791,"q":-0.209,"m":9.12395},{"p":0.796,"q":-0.204,"m":9.12391},{"p":0.761,"q":-0.239,"m":9.12411},{"p":0.772,"q":-0.228,"m":9.12408},{"p":0.774,"q":-0.226,"m":9.12403},{"p":0.782,"q":-0.218,"m":9.12422},{"p":0.785,"q":-0.215,"m":9.12424},{"p":0.789,"q":-0.211,"m":9.12428},{"p":0.787,"q":-0.213,"m":9.12434},{"p":0.791,"q":-0.209,"m":9.12429},{"p":0.802,"q":-0.198,"m":9.12422},{"p":0.801,"q":-0.199,"m":9.12426},{"p":0.76,"q":-0.24,"m":9.12434},{"p":0.775,"q":-0.225,"m":9.12442},{"p":0.795,"q":-0.205,"m":9.12449},{"p":0.796,"q":-0.204,"m":9.12455},{"p":0.802,"q":-0.198,"m":9.12445},{"p":0.765,"q":-0.235,"m":9.12467},{"p":0.813,"q":-0.187,"m":9.12471},{"p":0.834,"q":-0.166,"m":9.12468},{"p":0.789,"q":-0.211,"m":9.12476},{"p":0.762,"q":-0.238,"m":9.12488},{"p":0.764,"q":-0.236,"m":9.12494},{"p":0.799,"q":-0.201,"m":9.12497},{"p":0.796,"q":-0.204,"m":9.12504},{"p":0.793,"q":-0.207,"m":9.12506},{"p":0.789,"q":-0.211,"m":9.1251},{"p":0.787,"q":-0.213,"m":9.12507},{"p":0.779,"q":-0.221,"m":9.12506},{"p":0.8,"q":-0.2,"m":9.12517},{"p":0.806,"q":-0.194,"m":9.12527},{"p":0.793,"q":-0.207,"m":9.12532},{"p":0.791,"q":-0.209,"m":9.12535},{"p":0.753,"q":-0.247,"m":9.12545},{"p":0.781,"q":-0.219,"m":9.12556},{"p":0.779,"q":-0.221,"m":9.12566},{"p":0.793,"q":-0.207,"m":9.12553},{"p":0.799,"q":-0.201,"m":9.12567},{"p":0.805,"q":-0.195,"m":9.12563},{"p":0.815,"q":-0.185,"m":9.12563},{"p":0.812,"q":-0.188,"m":9.12574},{"p":0.808,"q":-0.192,"m":9.12584},{"p":0.827,"q":-0.173,"m":9.12578},{"p":0.828,"q":-0.172,"m":9.1258},{"p":0.819,"q":-0.181,"m":9.126},{"p":0.844,"q":-0.156,"m":9.12604},{"p":0.793,"q":-0.207,"m":9.12617},{"p":0.808,"q":-0.192,"m":9.12612},{"p":0.81,"q":-0.19,"m":9.12617},{"p":0.812,"q":-0.188,"m":9.12624},{"p":0.815,"q":-0.185,"m":9.12626},{"p":0.795,"q":-0.205,"m":9.12628},{"p":0.806,"q":-0.194,"m":9.1263},{"p":0.841,"q":-0.159,"m":9.1263},{"p":0.848,"q":-0.152,"m":9.12631},{"p":0.768,"q":-0.232,"m":9.12645},{"p":0.831,"q":-0.169,"m":9.12649},{"p":0.804,"q":-0.196,"m":9.12657},{"p":0.81,"q":-0.19,"m":9.12654},{"p":0.817,"q":-0.183,"m":9.12657},{"p":0.82,"q":-0.18,"m":9.1266},{"p":0.823,"q":-0.177,"m":9.12662},{"p":0.81,"q":-0.19,"m":9.12667},{"p":0.825,"q":-0.175,"m":9.12673},{"p":0.825,"q":-0.175,"m":9.1268},{"p":0.829,"q":-0.171,"m":9.12682},{"p":0.815,"q":-0.185,"m":9.12682},{"p":0.8,"q":-0.2,"m":9.12683},
{"p":0.784,"q":-0.216,"m":9.12704},{"p":0.807,"q":-0.193,"m":9.12709},{"p":0.826,"q":-0.174,"m":9.12709},{"p":0.834,"q":-0.166,"m":9.12711},{"p":0.833,"q":-0.167,"m":9.12717},{"p":0.819,"q":-0.181,"m":9.12724},{"p":0.823,"q":-0.177,"m":9.1273},{"p":0.827,"q":-0.173,"m":9.12734},{"p":0.812,"q":-0.188,"m":9.12735},{"p":0.829,"q":-0.171,"m":9.1274},{"p":0.843,"q":-0.157,"m":9.12727},{"p":0.841,"q":-0.159,"m":9.12732},{"p":0.857,"q":-0.143,"m":9.12735},{"p":0.827,"q":-0.173,"m":9.12747},{"p":0.836,"q":-0.164,"m":9.12743},{"p":0.88,"q":-0.12,"m":9.12753},{"p":0.85,"q":-0.15,"m":9.12758},{"p":0.84,"q":-0.16,"m":9.12762},{"p":0.865,"q":-0.135,"m":9.12765},{"p":0.822,"q":-0.178,"m":9.12774},{"p":0.84,"q":-0.16,"m":9.12777},{"p":0.825,"q":-0.175,"m":9.12791},{"p":0.817,"q":-0.183,"m":9.12796},{"p":0.836,"q":-0.164,"m":9.12792},{"p":0.841,"q":-0.159,"m":9.1279},{"p":0.86,"q":-0.14,"m":9.12796},{"p":0.86,"q":-0.14,"m":9.12807},{"p":0.847,"q":-0.153,"m":9.12815},{"p":0.834,"q":-0.166,"m":9.12823},{"p":0.837,"q":-0.163,"m":9.12823},{"p":0.856,"q":-0.144,"m":9.1283},{"p":0.844,"q":-0.156,"m":9.12839},{"p":0.839,"q":-0.161,"m":9.12845},{"p":0.843,"q":-0.157,"m":9.12846},{"p":0.848,"q":-0.152,"m":9.12848},{"p":0.854,"q":-0.146,"m":9.12839},{"p":0.872,"q":-0.128,"m":9.12851},{"p":0.85,"q":-0.15,"m":9.12858},{"p":0.861,"q":-0.139,"m":9.12859},{"p":0.864,"q":-0.136,"m":9.12869},{"p":0.843,"q":-0.157,"m":9.12873},{"p":0.849,"q":-0.151,"m":9.12873},{"p":0.815,"q":-0.185,"m":9.12878},{"p":0.876,"q":-0.124,"m":9.12888},{"p":0.876,"q":-0.124,"m":9.12903},{"p":0.85,"q":-0.15,"m":9.12895},{"p":0.858,"q":-0.142,"m":9.129},{"p":0.847,"q":-0.153,"m":9.12906},{"p":0.856,"q":-0.144,"m":9.12915},{"p":0.838,"q":-0.162,"m":9.12936},{"p":0.854,"q":-0.146,"m":9.12935},{"p":0.858,"q":-0.142,"m":9.12937},{"p":0.861,"q":-0.139,"m":9.12938},{"p":0.896,"q":-0.104,"m":9.12939},{"p":0.839,"q":-0.161,"m":9.12955},{"p":0.855,"q":-0.145,"m":9.12953},{"p":0.86,"q":-0.14,"m":9.12957},{"p":0.874,"q":-0.126,"m":9.12953},{"p":0.892,"q":-0.108,"m":9.12957},{"p":0.827,"q":-0.173,"m":9.12967},{"p":0.823,"q":-0.177,"m":9.12975},{"p":0.859,"q":-0.141,"m":9.1297},{"p":0.843,"q":-0.157,"m":9.12985},{"p":0.881,"q":-0.119,"m":9.12983},{"p":0.892,"q":-0.108,"m":9.12981},{"p":0.831,"q":-0.169,"m":9.12996},{"p":0.845,"q":-0.155,"m":9.12996},{"p":0.862,"q":-0.138,"m":9.12987},{"p":0.865,"q":-0.135,"m":9.12989},{"p":0.868,"q":-0.132,"m":9.12991},{"p":0.878,"q":-0.122,"m":9.13002},{"p":0.867,"q":-0.133,"m":9.13022},{"p":0.876,"q":-0.124,"m":9.13024},{"p":0.879,"q":-0.121,"m":9.13022},{"p":0.865,"q":-0.135,"m":9.13034},{"p":0.858,"q":-0.142,"m":9.13048},{"p":0.869,"q":-0.131,"m":9.1305},{"p":0.872,"q":-0.128,"m":9.13053},{"p":0.871,"q":-0.129,"m":9.13056},{"p":0.908,"q":-0.092,"m":9.13032},{"p":0.912,"q":-0.088,"m":9.1304},{"p":0.888,"q":-0.112,"m":9.13044},{"p":0.909,"q":-0.091,"m":9.13071},{"p":0.908,"q":-0.092,"m":9.13081},{"p":0.877,"q":-0.123,"m":9.13069},{"p":0.872,"q":-0.128,"m":9.13084},{"p":0.886,"q":-0.114,"m":9.13096},{"p":0.889,"q":-0.111,"m":9.13094},{"p":0.944,"q":-0.056,"m":9.13102},{"p":0.869,"q":-0.131,"m":9.13112},{"p":0.862,"q":-0.138,"m":9.13122},{"p":0.88,"q":-0.12,"m":9.13118},{"p":0.883,"q":-0.117,"m":9.13122},{"p":0.886,"q":-0.114,"m":9.13126},{"p":0.888,"q":-0.112,"m":9.13128},{"p":0.892,"q":-0.108,"m":9.13111},{"p":0.897,"q":-0.103,"m":9.13124},{"p":0.903,"q":-0.097,"m":9.13122},{"p":0.922,"q":-0.078,"m":9.13116},{"p":0.847,"q":-0.153,"m":9.13139},{"p":0.892,"q":-0.108,"m":9.13143},{"p":0.896,"q":-0.104,"m":9.13152},{"p":0.905,"q":-0.095,"m":9.1315},{"p":0.878,"q":-0.122,"m":9.13159},{"p":0.881,"q":-0.119,"m":9.13169},{"p":0.886,"q":-0.114,"m":9.13165},{"p":0.895,"q":-0.105,"m":9.13159},{"p":0.92,"q":-0.08,"m":9.13174},{"p":0.927,"q":-0.073,"m":9.13174},{"p":0.923,"q":-0.077,"m":9.13187},{"p":0.894,"q":-0.106,"m":9.13177},{"p":0.899,"q":-0.101,"m":9.13193},{"p":0.886,"q":-0.114,"m":9.13193},{"p":0.879,"q":-0.121,"m":9.13198},{"p":0.903,"q":-0.097,"m":9.13208},{"p":0.912,"q":-0.088,"m":9.1321},{"p":0.895,"q":-0.105,"m":9.13213},{"p":0.87,"q":-0.13,"m":9.13215},{"p":0.938,"q":-0.062,"m":9.13217},{"p":0.891,"q":-0.109,"m":9.13237},{"p":0.896,"q":-0.104,"m":9.1323},{"p":0.908,"q":-0.092,"m":9.13239},{"p":0.91,"q":-0.09,"m":9.13244},{"p":0.924,"q":-0.076,"m":9.13236},{"p":0.959,"q":-0.041,"m":9.13238},{"p":0.885,"q":-0.115,"m":9.13247},{"p":0.893,"q":-0.107,"m":9.13252},{"p":0.899,"q":-0.101,"m":9.1325},{"p":0.905,"q":-0.095,"m":9.13251},{"p":0.912,"q":-0.088,"m":9.13255},{"p":0.908,"q":-0.092,"m":9.1326},{"p":0.913,"q":-0.087,"m":9.13262},{"p":0.855,"q":-0.145,"m":9.1327},{"p":0.906,"q":-0.094,"m":9.13278},{"p":0.94,"q":-0.06,"m":9.13273},{"p":0.9,"q":-0.1,"m":9.13296},{"p":0.914,"q":-0.086,"m":9.13294},{"p":0.92,"q":-0.08,"m":9.13294},{"p":0.935,"q":-0.065,"m":9.13296},{"p":0.938,"q":-0.062,"m":9.13304},{"p":0.906,"q":-0.094,"m":9.13306},{"p":0.917,"q":-0.083,"m":9.13309},{"p":0.921,"q":-0.079,"m":9.13307},{"p":0.912,"q":-0.088,"m":9.13328},{"p":0.902,"q":-0.098,"m":9.13327},{"p":0.954,"q":-0.046,"m":9.13322},{"p":0.97,"q":-0.03,"m":9.13335},{"p":0.975,"q":-0.025,"m":9.13347},{"p":0.991,"q":-0.009,"m":9.13311},{"p":0.905,"q":-0.095,"m":9.13343},{"p":0.917,"q":-0.083,"m":9.13348},{"p":0.922,"q":-0.078,"m":9.13342},{"p":0.927,"q":-0.073,"m":9.13354},{"p":0.895,"q":-0.105,"m":9.13363},{"p":0.919,"q":-0.081,"m":9.13367},{"p":0.92,"q":-0.08,"m":9.13376},{"p":0.955,"q":-0.045,"m":9.13358},{"p":0.954,"q":-0.046,"m":9.13369},{"p":0.926,"q":-0.074,"m":9.13389},{"p":0.931,"q":-0.069,"m":9.13389},{"p":0.934,"q":-0.066,"m":9.13391},{"p":0.922,"q":-0.078,"m":9.13404},{"p":0.93,"q":-0.07,"m":9.13409},{"p":0.935,"q":-0.065,"m":9.13407},{"p":0.94,"q":-0.06,"m":9.13409},{"p":0.948,"q":-0.052,"m":9.13402},{"p":0.951,"q":-0.049,"m":9.13404},{"p":0.941,"q":-0.059,"m":9.13422},{"p":0.933,"q":-0.067,"m":9.1343},{"p":0.972,"q":-0.028,"m":9.13395},{"p":0.984,"q":-0.016,"m":9.13389},{"p":0.986,"q":-0.014,"m":9.13407},{"p":0.987,"q":-0.013,"m":9.13417},{"p":0.967,"q":-0.033,"m":9.1342},{"p":0.967,"q":-0.033,"m":9.13435},{"p":0.916,"q":-0.084,"m":9.13438},{"p":0.924,"q":-0.076,"m":9.13444},{"p":0.932,"q":-0.068,"m":9.13451},{"p":0.91,"q":-0.09,"m":9.13459},{"p":0.93,"q":-0.07,"m":9.13463},{"p":0.944,"q":-0.056,"m":9.1345},{"p":0.944,"q":-0.056,"m":9.1347},{"p":0.949,"q":-0.051,"m":9.13467},{"p":0.954,"q":-0.046,"m":9.13467},{"p":0.952,"q":-0.048,"m":9.13472},{"p":0.971,"q":-0.029,"m":9.13476},{"p":0.984,"q":-0.016,"m":9.13477},{"p":0.99,"q":-0.01,"m":9.13477},{"p":0.998,"q":-0.002,"m":9.13477},{"p":0.932,"q":-0.068,"m":9.13482},{"p":0.954,"q":-0.046,"m":9.13482},{"p":0.963,"q":-0.037,"m":9.13484},{"p":0.977,"q":-0.023,"m":9.13485},{"p":0.935,"q":-0.065,"m":9.13497},{"p":0.949,"q":-0.051,"m":9.13497},{"p":0.96,"q":-0.04,"m":9.13499},{"p":0.969,"q":-0.031,"m":9.13498},{"p":0.939,"q":-0.061,"m":9.13515},{"p":0.956,"q":-0.044,"m":9.13513},{"p":0.964,"q":-0.036,"m":9.13515},{"p":0.994,"q":-0.006,"m":9.13521},{"p":0.998,"q":-0.002,"m":9.13517},{"p":0.977,"q":-0.023,"m":9.13529},{"p":0.979,"q":-0.021,"m":9.1353},{"p":0.969,"q":-0.031,"m":9.13532},{"p":0.998,"q":-0.002,"m":9.13542},{"p":0.949,"q":-0.051,"m":9.13544},{"p":0.937,"q":-0.063,"m":9.13549},{"p":0.96,"q":-0.04,"m":9.13549},{"p":0.965,"q":-0.035,"m":9.13552},{"p":0.971,"q":-0.029,"m":9.13557},{"p":0.973,"q":-0.027,"m":9.13552},{"p":0.979,"q":-0.021,"m":9.13557},{"p":0.988,"q":-0.012,"m":9.13555},{"p":0.947,"q":-0.053,"m":9.13565},{"p":0.952,"q":-0.048,"m":9.13573},{"p":0.957,"q":-0.043,"m":9.13573},{"p":0.966,"q":-0.034,"m":9.1358},{"p":0.984,"q":-0.016,"m":9.13578},{"p":0.989,"q":-0.011,"m":9.1358},{"p":0.994,"q":-0.006,"m":9.13583},{"p":0.998,"q":-0.002,"m":9.13588},{"p":0.944,"q":-0.056,"m":9.13596},{"p":0.951,"q":-0.049,"m":9.13604},{"p":0.964,"q":-0.036,"m":9.136},{"p":0.971,"q":-0.029,"m":9.13604},{"p":0.979,"q":-0.021,"m":9.136},{"p":0.987,"q":-0.013,"m":9.136},{"p":0.992,"q":-0.008,"m":9.13602},{"p":0.994,"q":-0.006,"m":9.13611},{"p":0.991,"q":-0.009,"m":9.13614},{"p":0.975,"q":-0.025,"m":9.13613},{"p":0.926,"q":-0.074,"m":9.13622},{"p":0.941,"q":-0.059,"m":9.13632},{"p":0.948,"q":-0.052,"m":9.13628},{"p":0.954,"q":-0.046,"m":9.13641},{"p":0.966,"q":-0.034,"m":9.13647},{"p":0.977,"q":-0.023,"m":9.13632},{"p":0.981,"q":-0.019,"m":9.13651},{"p":0.992,"q":-0.008,"m":9.1363},{"p":0.995,"q":-0.005,"m":9.13633},{"p":0.991,"q":-0.009,"m":9.13645},{"p":0.994,"q":-0.006,"m":9.13647},{"p":0.937,"q":-0.063,"m":9.13673},{"p":0.972,"q":-0.028,"m":9.13692},{"p":0.998,"q":-0.002,"m":9.13354},{"p":0.997,"q":-0.003,"m":9.13409}
]},
"layer":[
{"data":{"name":"pts"},"mark":{"type":"circle","size":17,"color":"black","opacity":1,"clip":true},
"encoding":{"x":{"field":"p","type":"quantitative","title":"phase","scale":{"domain":[-1,1],"nice":false,"zero":false},
"axis":{"title":"phase","values":[-1,-0.75,-0.5,-0.25,0,0.25,0.5,0.75,1],"format":".2f","labelPadding":8.5,"titlePadding":10,"labelFlush":false}},
"y":{"field":"m","type":"quantitative","title":"mag","scale":{"domain":[9.11701,9.137],"reverse":true,"nice":false,"zero":false},
"axis":{"title":"mag","values":[9.1175,9.12,9.1225,9.125,9.1275,9.13,9.1325,9.135],"format":".4f","labelPadding":11,"titlePadding":9}}}},
{"data":{"name":"pts"},"mark":{"type":"circle","size":17,"color":"black","opacity":1,"clip":true},
"encoding":{"x":{"field":"q","type":"quantitative","title":"phase",
"axis":{"title":"phase","values":[-1,-0.75,-0.5,-0.25,0,0.25,0.5,0.75,1],"format":".2f","labelPadding":8.5,"titlePadding":10,"labelFlush":false}},
"y":{"field":"m","type":"quantitative","title":"mag",
"axis":{"title":"mag","values":[9.1175,9.12,9.1225,9.125,9.1275,9.13,9.1325,9.135],"format":".4f","labelPadding":11,"titlePadding":9}}}},
{"data":{"values":[{"x":-0.4295},{"x":0.5705}]},"mark":{"type":"rule","color":"#ff0000","strokeWidth":7.3},
"encoding":{"x":{"field":"x","type":"quantitative","title":"phase",
"axis":{"title":"phase","values":[-1,-0.75,-0.5,-0.25,0,0.25,0.5,0.75,1],"format":".2f","labelPadding":8.5,"titlePadding":10,"labelFlush":false}}}}
]
}
